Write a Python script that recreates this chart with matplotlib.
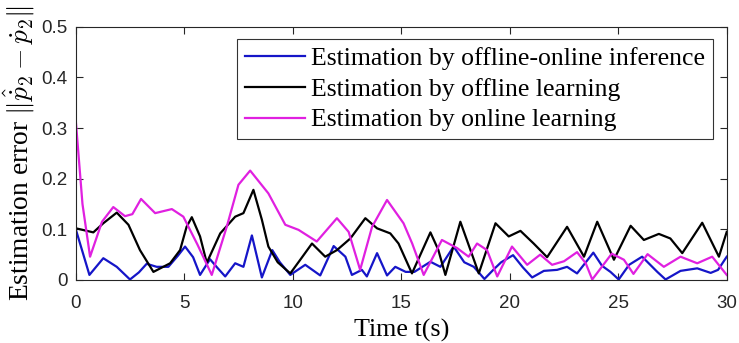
import matplotlib
matplotlib.use("Agg")
import matplotlib.pyplot as plt

# ---- data ----
t_blue = [0, 0.62, 1.26, 1.88, 2.49, 2.9, 3.26, 3.72, 4.26, 4.7, 5.03, 5.4, 5.72, 6.18, 6.5, 6.88,
          7.34, 7.72, 8.11, 8.57, 9.05, 9.4, 9.88, 10.57, 11.26, 11.88, 12.42, 12.72, 13.18, 13.41,
          13.88, 14.34, 14.72, 15.2, 15.6, 16.34, 16.8, 17.41, 17.9, 18.34, 18.83, 19.26, 19.6,
          20.15, 20.6, 21.03, 21.57, 22.18, 22.64, 23.1, 23.85, 24.25, 24.64, 25.02, 25.5, 26.1,
          26.8, 27.18, 27.87, 28.64, 29.26, 29.6, 30]
v_blue = [0.099, 0.01, 0.043, 0.026, 0.001, 0.015, 0.032, 0.026, 0.026, 0.048, 0.066, 0.045, 0.01,
          0.041, 0.025, 0.007, 0.033, 0.026, 0.088, 0.005, 0.059, 0.035, 0.01, 0.03, 0.009, 0.067,
          0.046, 0.01, 0.02, 0.007, 0.053, 0.009, 0.026, 0.016, 0.016, 0.036, 0.026, 0.066, 0.035,
          0.026, 0.002, 0.021, 0.035, 0.049, 0.025, 0.005, 0.018, 0.02, 0.026, 0.013, 0.054, 0.028,
          0.016, 0.001, 0.03, 0.046, 0.016, 0.001, 0.018, 0.023, 0.014, 0.02, 0.046]

t_black = [0, 0.8, 1.26, 1.88, 2.42, 2.95, 3.57, 4.34, 4.8, 5.1, 5.34, 5.72, 6.03, 6.65, 7.34, 7.72,
           8.18, 8.57, 8.87, 9.3, 9.88, 10.34, 10.88, 11.49, 12.03, 12.65, 13.34, 13.88, 14.49,
           14.87, 15.49, 16.34, 16.7, 17.03, 17.72, 18.57, 19.34, 19.95, 20.49, 21.1, 21.72, 22.64,
           23.42, 24.03, 24.8, 25.57, 26.18, 26.87, 27.4, 27.95, 28.87, 29.64, 30]
v_black = [0.102, 0.094, 0.112, 0.133, 0.109, 0.059, 0.016, 0.033, 0.059, 0.105, 0.124, 0.086,
           0.034, 0.092, 0.125, 0.132, 0.178, 0.119, 0.066, 0.035, 0.013, 0.04, 0.072, 0.046, 0.059,
           0.082, 0.122, 0.102, 0.092, 0.072, 0.013, 0.094, 0.06, 0.01, 0.115, 0.013, 0.112, 0.086,
           0.097, 0.072, 0.045, 0.105, 0.046, 0.115, 0.04, 0.107, 0.079, 0.091, 0.082, 0.053, 0.113,
           0.046, 0.095]

t_mag = [0, 0.3, 0.65, 1.2, 1.72, 2.26, 2.6, 3.0, 3.65, 4.42, 4.95, 5.6, 6.26, 6.95, 7.49, 8.03,
         8.87, 9.65, 10.26, 11.1, 12.03, 12.57, 13.1, 13.65, 14.34, 15.1, 15.5, 16.03, 16.87, 17.57,
         18.1, 18.49, 18.95, 19.42, 20.1, 20.8, 21.4, 21.95, 22.5, 23.1, 23.5, 23.8, 24.7, 25.26,
         25.7, 26.35, 27.1, 27.87, 28.64, 29.33, 30]
v_mag = [0.31, 0.15, 0.046, 0.115, 0.144, 0.126, 0.13, 0.16, 0.132, 0.14, 0.125, 0.07, 0.01, 0.105,
         0.188, 0.216, 0.171, 0.109, 0.099, 0.076, 0.122, 0.095, 0.02, 0.105, 0.158, 0.112, 0.072,
         0.01, 0.079, 0.063, 0.046, 0.072, 0.059, 0.007, 0.066, 0.03, 0.05, 0.03, 0.037, 0.055,
         0.033, 0.001, 0.052, 0.04, 0.012, 0.051, 0.026, 0.046, 0.033, 0.046, 0.01]

labels = ["Estimation by offline-online inference",
          "Estimation by offline learning",
          "Estimation by online learning"]
xticks = [0, 5, 10, 15, 20, 25, 30]
yticks = [0, 0.1, 0.2, 0.3, 0.4, 0.5]
ytick_labels = ["0", "0.1", "0.2", "0.3", "0.4", "0.5"]

# ---- plot ----
plt.rcParams['mathtext.fontset'] = 'cm'
fig = plt.figure(figsize=(7.39, 3.43), dpi=100)
ax = fig.add_axes([0.1028, 0.1837, 0.8806, 0.7383])

ax.plot(t_blue, v_blue, color='#1515c8', lw=1.6, label=labels[0])
ax.plot(t_black, v_black, color='black', lw=1.6, label=labels[1])
ax.plot(t_mag, v_mag, color='#e020e0', lw=1.6, label=labels[2])

ax.set_xlim(0, 30)
ax.set_ylim(0, 0.5)
ax.set_xticks(xticks)
ax.set_yticks(yticks)
ax.set_yticklabels(ytick_labels)
ax.tick_params(direction='in', top=True, right=True, length=5, width=0.8,
               labelsize=13.5, colors='#262626')
ax.tick_params(axis='x', pad=11)
ax.tick_params(axis='y', pad=6)
for lab in ax.get_xticklabels() + ax.get_yticklabels():
    lab.set_family('Liberation Sans')
for s in ax.spines.values():
    s.set_color('#262626')
    s.set_linewidth(0.8)

ax.set_xlabel("Time t(s)", family='Liberation Serif', fontsize=18.7, labelpad=5)
ax.set_ylabel(r"Estimation error $\|\hat{\dot{p}}_2-\dot{p}_2\|$", family='Liberation Serif',
              fontsize=19.8, labelpad=3)

leg = ax.legend(loc='upper left', bbox_to_anchor=(0.2474, 0.95), borderaxespad=0,
                prop={'family': 'Liberation Serif', 'size': 18.5}, frameon=True,
                fancybox=False, edgecolor='black', handlelength=2.35, handletextpad=0.23,
                labelspacing=0.3, borderpad=0.3)
leg.get_frame().set_linewidth(0.8)

fig.savefig("out.png", dpi=100)
